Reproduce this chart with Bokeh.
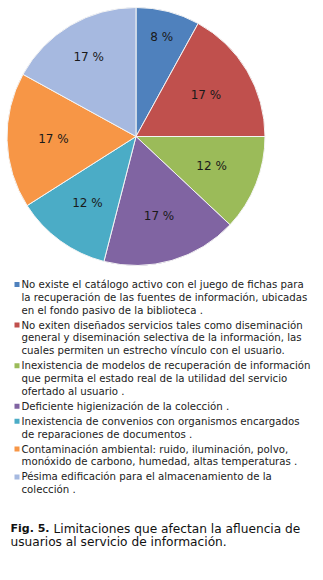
import numpy as np
from bokeh.plotting import figure
from bokeh.models import Range1d, ColumnDataSource
from bokeh.core.properties import value
from bokeh.embed import file_html
from bokeh.resources import INLINE

# ---- data ----
labels = [
    ["No existe el catálogo activo con el juego de fichas para",
     "la recuperación de las fuentes de información, ubicadas",
     "en el fondo pasivo de la biblioteca ."],
    ["No exiten diseñados servicios tales como diseminación",
     "general y diseminación selectiva de la información, las",
     "cuales permiten un estrecho vínculo con el usuario."],
    ["Inexistencia de modelos de recuperación de información",
     "que permita el estado real de la utilidad del servicio",
     "ofertado al usuario ."],
    ["Deficiente higienización de la colección ."],
    ["Inexistencia de convenios con organismos encargados",
     "de reparaciones de documentos ."],
    ["Contaminación ambiental: ruido, iluminación, polvo,",
     "monóxido de carbono, humedad, altas temperaturas ."],
    ["Pésima edificación para el almacenamiento de la",
     "colección ."],
]
values = [8, 17, 12, 17, 12, 17, 17]
pct_labels = ["8 %", "17 %", "12 %", "17 %", "12 %", "17 %", "17 %"]
colors = ["#4F81BD", "#C0504D", "#9BBB59", "#8064A2", "#4BACC6", "#F79646", "#A6B9E0"]
caption_bold = "Fig. 5."
caption_rest = ["Limitaciones que afectan la afluencia de",
                "usuarios al servicio de información."]

# ---- layout ----
W, H = 323, 580
cx, cy, R = 135.5, 136.0, 129.0
label_r = [0.80, 0.63, 0.63, 0.64, 0.64, 0.64, 0.72]

def Y(py):
    return H - py

p = figure(width=W, height=H, output_backend="svg", toolbar_location=None,
           x_range=Range1d(0, W), y_range=Range1d(0, H), min_border=0)
p.axis.visible = False
p.grid.visible = False
p.outline_line_color = None
p.background_fill_color = "white"
p.border_fill_color = "white"

vals = np.array(values, dtype=float)
frac = vals / vals.sum()
cum_end = np.cumsum(frac)
cum_start = cum_end - frac
start = np.pi / 2 - 2 * np.pi * cum_start
end = np.pi / 2 - 2 * np.pi * cum_end
src = ColumnDataSource(dict(start=start, end=end, color=colors))
p.wedge(x=cx, y=Y(cy), radius=R, start_angle="start", end_angle="end",
        direction="clock", fill_color="color", line_color="#f4f4f4",
        line_width=1, source=src)

mid = np.pi / 2 - 2 * np.pi * (cum_start + frac / 2)
lx = cx + np.array(label_r) * R * np.cos(mid)
ly = Y(cy) + np.array(label_r) * R * np.sin(mid)
p.text(x=lx, y=ly, text=pct_labels, text_align="center", text_baseline="middle",
       text_font=value("DejaVu Sans"), text_font_size="12px", text_color="#1a1a1a")

# legend
y = 284.0
line_h = 12.8
gap = 2.2
mx, tx = 16.5, 21.0
for i, block in enumerate(labels):
    p.rect(x=mx, y=Y(y), width=5, height=5, fill_color=colors[i], line_color=None)
    for j, line in enumerate(block):
        p.text(x=tx, y=Y(y), text=[line], text_baseline="middle",
               text_font=value("DejaVu Sans"), text_font_size="10.2px", text_color="#222222")
        y += line_h
    y += gap

# caption
p.text(x=10, y=Y(528), text=[caption_bold], text_baseline="middle",
       text_font=value("DejaVu Sans"), text_font_size="11px", text_font_style="bold",
       text_color="#111111")
p.text(x=53, y=Y(528), text=[caption_rest[0]], text_baseline="middle",
       text_font=value("DejaVu Sans"), text_font_size="12.2px", text_color="#111111")
p.text(x=10, y=Y(541.5), text=[caption_rest[1]], text_baseline="middle",
       text_font=value("DejaVu Sans"), text_font_size="12.2px", text_color="#111111")

open("out.html", "w").write(file_html(p, INLINE))
